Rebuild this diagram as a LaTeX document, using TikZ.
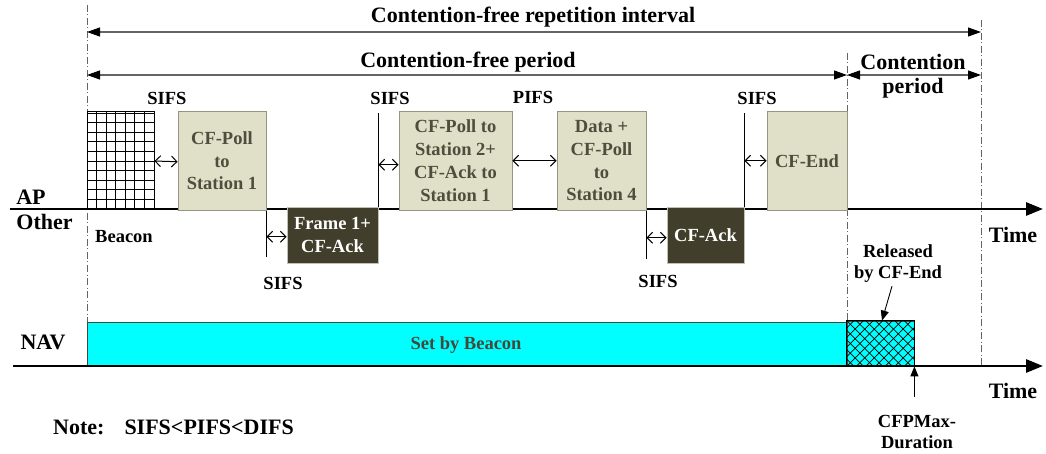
\documentclass[tikz,border=0pt]{standalone}
\usepackage{fontspec}
\setmainfont{Liberation Serif}
\usetikzlibrary{arrows.meta}

\definecolor{apFill}{RGB}{224,224,200}
\definecolor{apEdge}{RGB}{150,150,128}
\definecolor{apText}{RGB}{78,78,62}
\definecolor{staFill}{RGB}{66,62,44}
\definecolor{navCyan}{RGB}{0,255,255}
\definecolor{guideGray}{RGB}{100,100,100}
\definecolor{navText}{RGB}{70,70,58}

\tikzset{
  big/.style={font=\fontsize{22}{24}\selectfont\bfseries, inner sep=0pt},
  small/.style={font=\fontsize{18.5}{22.8}\selectfont\bfseries, inner sep=0pt},
  apframe/.style={small, draw=apEdge, fill=apFill, text=apText, line width=0.8pt, align=center},
  staframe/.style={small, draw=apEdge!60, fill=staFill, text=white, line width=0.8pt, align=center},
  guide/.style={guideGray, line width=1pt, dash pattern=on 7pt off 2.5pt on 1pt off 2.5pt},
  span/.style={{Triangle[length=13pt,width=9pt,color=black]}-{Triangle[length=13pt,width=9pt,color=black]}, draw=guideGray, line width=1.1pt},
  gap/.style={{Straight Barb[length=5.5pt,width=11pt]}-{Straight Barb[length=5.5pt,width=11pt]}, line width=1pt},
  timeaxis/.style={line width=2.8pt, -{Triangle[length=17pt,width=13pt]}},
  tickline/.style={line width=1.2pt},
  pointer/.style={line width=0.9pt, -{Triangle[length=10pt,width=8pt]}}
}

\begin{document}
\begin{tikzpicture}[x=1pt,y=-1pt]
\useasboundingbox (0,0) rectangle (1046,454);

% period boundaries
\coordinate (gLtop) at (87,5);
\coordinate (gLbot) at (87,322);
\coordinate (gMtop) at (847,53);
\coordinate (gMbot) at (847,321);
\coordinate (gRtop) at (981,20);
\coordinate (gRbot) at (981,366);
\draw[guide] (gLtop) -- (gLbot);
\draw[guide] (gMtop) -- (gMbot);
\draw[guide] (gRtop) -- (gRbot);

% interval spans
\coordinate (repL) at (87,32);
\coordinate (repR) at (981,32);
\coordinate (cfpL) at (87,75);
\coordinate (cfpR) at (847,75);
\coordinate (cpR) at (981,75);
\draw[span] (repL) -- (repR);
\draw[span] (cfpL) -- (cfpR);
\draw[span] (cfpR) -- (cpR);
\node[big] (repLabel) at (533,17) {Contention-free repetition interval};
\node[big] (cfpLabel) at (468,62) {Contention-free period};
\node[big, align=center] (cpLabel) at (913,76) {Contention\\period};

% AP / station time line
\coordinate (apStart) at (10,209);
\coordinate (apEnd) at (1043,209);
\draw[timeaxis] (apStart) -- (apEnd);
\node[big] (apLabel) at (31,197) {AP};
\node[big] (otherLabel) at (44.5,222) {Other};
\node[big] (time1) at (1013,235) {Time};

% beacon with grid
\node[draw, line width=0.9pt, minimum width=67pt, minimum height=98pt, inner sep=0pt] (beacon) at (120.5,160) {};
\begin{scope}
  \clip (87,111) rectangle (154,209);
  \foreach \i in {0,...,7} \draw[line width=0.8pt] (87+\i*9.57,111) -- (87+\i*9.57,209);
  \foreach \j in {0,...,10} \draw[line width=0.8pt] (87,209-\j*9.6) -- (154,209-\j*9.6);
\end{scope}
\node[small] (beaconLabel) at (124,237) {Beacon};

% frames sent by the AP
\node[apframe, minimum width=88pt, minimum height=99.5pt] (poll1) at (222,160.75) {CF-Poll\\to\\Station 1};
\node[apframe, minimum width=113pt, minimum height=99.5pt] (poll2) at (455.5,160.75) {CF-Poll to\\Station 2+\\CF-Ack to\\Station 1};
\node[apframe, minimum width=89pt, minimum height=99.5pt] (data4) at (601.5,160.75) {Data +\\CF-Poll\\to\\Station 4};
\node[apframe, minimum width=80pt, minimum height=99.5pt] (cfend) at (807,160.75) {CF-End};

% frames sent by the stations
\node[staframe, minimum width=91pt, minimum height=55.5pt] (frame1) at (332.5,235.25) {Frame 1+\\CF-Ack};
\node[staframe, minimum width=77pt, minimum height=55.5pt] (cfack) at (705.5,235.25) {CF-Ack};

% interframe space markers
\draw[tickline] (poll1.south east) -- ++(0,46);
\draw[tickline] (frame1.north east) -- ++(0,-94);
\draw[tickline] (data4.south east) -- ++(0,48);
\draw[tickline] (cfack.north east) -- ++(0,-94);

\draw[gap] ([yshift=-1pt]beacon.east) -- ([yshift=-1pt]poll1.west);
\draw[gap] ([yshift=-1.5pt]frame1.west -| poll1.east) -- ([yshift=-1.5pt]frame1.west);
\draw[gap] ([yshift=-4pt]poll2.west -| frame1.east) -- ([yshift=-4pt]poll2.west);
\draw[gap] (poll2.east) -- (data4.west);
\draw[gap] ([yshift=-2.5pt]cfack.west -| data4.east) -- ([yshift=-2.5pt]cfack.west);
\draw[gap] (cfend.west -| cfack.east) -- (cfend.west);

\node[small] (sifs1) at (167,98) {SIFS};
\node[small] (sifs2) at (390,98) {SIFS};
\node[small] (pifs) at (533,97) {PIFS};
\node[small] (sifs3) at (757,98) {SIFS};
\node[small] (sifs4) at (283,283) {SIFS};
\node[small] (sifs5) at (658,281) {SIFS};

% NAV time line
\node[draw=navText, fill=navCyan, line width=0.8pt, minimum width=760pt, minimum height=44pt, inner sep=0pt] (navSet) at (467,344) {};
\node[small, text=navText] (navSetLabel) at (466,344.7) {Set by Beacon};
\node[draw=navText, fill=navCyan, line width=0.8pt, minimum width=67pt, minimum height=45pt, inner sep=0pt] (hatch) at (880.5,343.5) {};
\begin{scope}
  \clip (847,321) rectangle (914,366);
  \foreach \k in {-6,...,8} {
    \draw[line width=0.7pt] (847+\k*9.6,366) -- ++(45,-45);
    \draw[line width=0.7pt] (847+\k*9.6,321) -- ++(45,45);
  }
\end{scope}
\draw[line width=0.8pt] (hatch.south west) rectangle (hatch.north east);

\coordinate (navStart) at (13,366);
\coordinate (navEnd) at (1043,366);
\draw[timeaxis] (navStart) -- (navEnd);
\node[big] (navLabel) at (43,342) {NAV};
\node[big] (time2) at (1013,391) {Time};

\node[small, align=center, font=\fontsize{18.5}{21}\selectfont\bfseries] (relLabel) at (898,264) {Released\\by CF-End};
\draw[pointer] ([xshift=-6pt,yshift=-3pt]relLabel.south) -- ([xshift=1.5pt]hatch.north);
\node[small, align=center, font=\fontsize{18.5}{21}\selectfont\bfseries] (cfpMax) at (917,432) {CFPMax-\\Duration};
\coordinate (cfpMaxTop) at (cfpMax.north -| hatch.east);
\draw[pointer] ([yshift=18pt]cfpMaxTop) -- (hatch.south east);

\node[big, anchor=west] (note) at (53,427) {Note:\hspace{20pt}SIFS<PIFS<DIFS};
\end{tikzpicture}
\end{document}
